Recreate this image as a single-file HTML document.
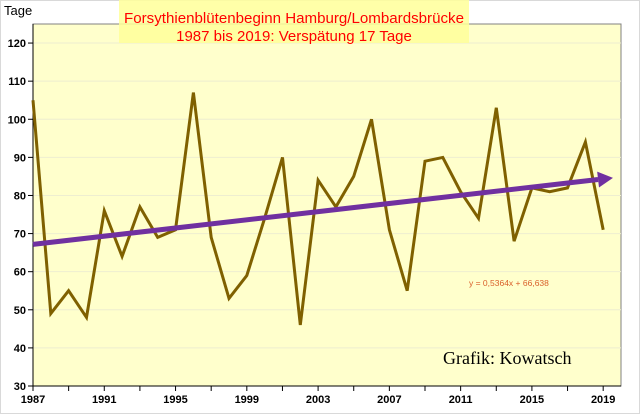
<!DOCTYPE html>
<html><head><meta charset="utf-8"><style>
body{margin:0;background:#fff;}
svg{display:block;font-family:"Liberation Sans",Arial,sans-serif;}
</style></head><body>
<svg id="chart" width="640" height="414" xmlns="http://www.w3.org/2000/svg">
<rect x="0.5" y="0.5" width="639" height="413" fill="#fff" stroke="#d9d9d9"/>
<rect x="33" y="24" width="588" height="362" fill="#ffffcc" stroke="#808080" stroke-width="1"/>
<g id="grid"></g>
<rect x="119" y="0" width="350" height="43" fill="#ffff99" opacity="0.85"/>
<text x="294" y="23" text-anchor="middle" font-size="15" textLength="340" lengthAdjust="spacingAndGlyphs" fill="#ff0000">Forsythienblütenbeginn Hamburg/Lombardsbrücke</text>
<text x="294" y="41" text-anchor="middle" font-size="15" fill="#ff0000">1987 bis 2019: Verspätung 17 Tage</text>
<text x="4" y="15" font-size="13" fill="#000">Tage</text>
<g id="axes"></g>
<g id="series"></g>
<text x="469" y="286" font-size="8.5" fill="#d9602a">y = 0,5364x + 66,638</text>
<text x="443" y="364" font-size="18" font-family="'Liberation Serif',serif" fill="#000">Grafik: Kowatsch</text>
</svg>
<script>
const years=[1987,1988,1989,1990,1991,1992,1993,1994,1995,1996,1997,1998,1999,2000,2001,2002,2003,2004,2005,2006,2007,2008,2009,2010,2011,2012,2013,2014,2015,2016,2017,2018,2019];
const days=[105,49,55,48,76,64,77,69,71,107,69,53,59,74,90,46,84,77,85,100,71,55,89,90,81,74,103,68,82,81,82,94,71];
const yTicks=[30,40,50,60,70,80,90,100,110,120];
const xTickLabels=[1987,1991,1995,1999,2003,2007,2011,2015,2019];
const trendSlope=[0.5364];
const trendIntercept=[66.638];
const NS="http://www.w3.org/2000/svg";
const X0=33,X1=621,Y0=386,Y1=24,XMIN=1987,XMAX=2020,YMIN=30,YMAX=125;
function sx(v){return X0+(v-XMIN)/(XMAX-XMIN)*(X1-X0);}
function sy(v){return Y0-(v-YMIN)/(YMAX-YMIN)*(Y0-Y1);}
function mk(t,a,p){const e=document.createElementNS(NS,t);for(const k in a)e.setAttribute(k,a[k]);p.appendChild(e);return e;}
const grid=document.getElementById('grid'),axes=document.getElementById('axes'),series=document.getElementById('series');
yTicks.forEach(v=>{
  if(v>YMIN){const g=mk('line',{x1:X0,x2:X1,y1:sy(v),y2:sy(v),stroke:'#eeeed0','stroke-width':1},grid);
  
  }
  const tk=mk('line',{x1:X0-5,x2:X0,y1:sy(v),y2:sy(v),stroke:'#000'},axes);
  
  
  const t=mk('text',{x:X0-7,y:sy(v)+4,'text-anchor':'end','font-size':11,'font-weight':'bold'},axes);
  t.textContent=v;
  
  
});
mk('line',{x1:X0,x2:X0,y1:Y1,y2:Y0,stroke:'#000'},axes);
mk('line',{x1:X0,x2:X1,y1:Y0,y2:Y0,stroke:'#000'},axes);
for(let y=XMIN;y<=2019;y+=2){
  const tk=mk('line',{x1:sx(y),x2:sx(y),y1:Y0,y2:Y0+5,stroke:'#000'},axes);
  
  
}
xTickLabels.forEach(y=>{
  const t=mk('text',{x:sx(y),y:Y0+17,'text-anchor':'middle','font-size':11,'font-weight':'bold'},axes);
  t.textContent=y;
  
  
});
const pts=years.map((y,i)=>sx(y).toFixed(1)+','+sy(days[i]).toFixed(1)).join(' ');
const pl=mk('polyline',{points:pts,fill:'none',stroke:'#7f6000','stroke-width':3,'stroke-linejoin':'miter'},series);


const xa=XMIN,xb=XMAX-0.45;
const ya=trendSlope[0]*(xa-XMIN+1)+trendIntercept[0],yb=trendSlope[0]*(xb-XMIN+1)+trendIntercept[0];
const ax1=sx(xa),ay1=sy(ya),ax2=sx(xb),ay2=sy(yb);
const ang=Math.atan2(ay2-ay1,ax2-ax1),L=15;
const bx=ax2-L*Math.cos(ang),by=ay2-L*Math.sin(ang);
const tl=mk('line',{x1:ax1,y1:ay1,x2:bx,y2:by,stroke:'#7030a0','stroke-width':5},series);


const w=8,px=-Math.sin(ang)*w,py=Math.cos(ang)*w;
const ah=mk('polygon',{points:`${ax2},${ay2} ${bx+px},${by+py} ${bx-px},${by-py}`,fill:'#7030a0'},series);


</script>
</body></html>
